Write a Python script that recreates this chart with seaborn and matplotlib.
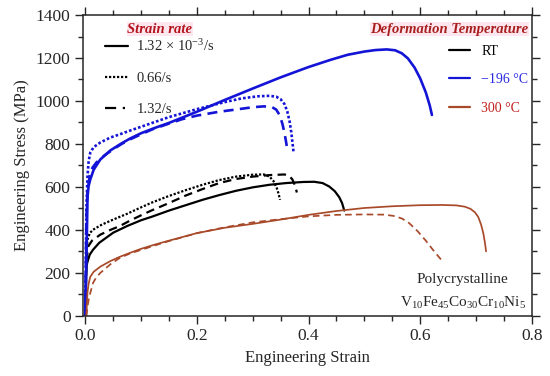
import numpy as np
import pandas as pd
import seaborn as sns
import matplotlib.pyplot as plt
from matplotlib.lines import Line2D
from matplotlib.ticker import MultipleLocator

# ---- data (strain, stress in MPa) ----
# RT
rt_slow_x = [0, 0.002, 0.004, 0.008, 0.014, 0.025, 0.05, 0.075, 0.1, 0.12, 0.15, 0.18, 0.21, 0.24, 0.27, 0.3,
             0.33, 0.36, 0.39, 0.41, 0.425, 0.437, 0.447, 0.455, 0.46, 0.464]
rt_slow_y = [0, 230, 252, 285, 308, 340, 387, 418, 445, 462, 490, 515, 540, 562, 582, 598,
             610, 618, 623, 624, 618, 602, 580, 552, 525, 490]
rt_mid_x = [0, 0.002, 0.004, 0.008, 0.014, 0.03, 0.05, 0.075, 0.1, 0.12, 0.15, 0.18, 0.21, 0.24, 0.27, 0.3,
            0.32, 0.33, 0.337, 0.343, 0.346, 0.349]
rt_mid_y = [0, 300, 355, 385, 401, 425, 448, 475, 505, 528, 558, 585, 610, 632, 648, 657,
            658, 648, 628, 595, 570, 540]
rt_fast_x = [0, 0.002, 0.005, 0.012, 0.027, 0.045, 0.062, 0.08, 0.1, 0.12, 0.15, 0.18, 0.21, 0.24, 0.27, 0.3,
             0.33, 0.357, 0.365, 0.371, 0.376, 0.379]
rt_fast_y = [0, 250, 322, 350, 378, 400, 418, 443, 468, 492, 525, 560, 590, 618, 637, 648,
             655, 658, 652, 635, 605, 574]

# -196 C
cryo_slow_x = [0, 0.003, 0.004, 0.006, 0.009, 0.015, 0.027, 0.045, 0.062, 0.08, 0.1, 0.125, 0.15, 0.2, 0.25,
               0.3, 0.35, 0.4, 0.44, 0.47, 0.5, 0.52, 0.54, 0.555, 0.567, 0.578, 0.59, 0.6, 0.61, 0.617, 0.621]
cryo_slow_y = [0, 400, 555, 605, 635, 680, 728, 770, 798, 825, 850, 875, 898, 950, 1005,
               1058, 1110, 1158, 1192, 1215, 1230, 1237, 1240, 1236, 1222, 1198, 1155, 1105, 1040, 980, 935]
cryo_mid_x = [0, 0.002, 0.004, 0.006, 0.009, 0.015, 0.027, 0.045, 0.062, 0.08, 0.1, 0.15, 0.2, 0.25, 0.28,
              0.31, 0.33, 0.342, 0.35, 0.357, 0.362, 0.366, 0.369, 0.371, 0.373]
cryo_mid_y = [0, 500, 650, 720, 760, 785, 807, 830, 845, 862, 880, 925, 962, 995, 1012,
              1022, 1024, 1020, 1008, 985, 950, 905, 855, 810, 765]
cryo_fast_x = [0, 0.002, 0.004, 0.008, 0.013, 0.02, 0.035, 0.05, 0.065, 0.08, 0.1, 0.12, 0.15, 0.173, 0.2,
               0.24, 0.275, 0.3, 0.32, 0.334, 0.342, 0.348, 0.353, 0.357, 0.36, 0.362]
cryo_fast_y = [0, 450, 580, 655, 690, 714, 748, 775, 800, 821, 845, 868, 895, 915, 932,
               950, 962, 971, 975, 972, 960, 935, 895, 850, 805, 770]

# 300 C
hot_slow_x = [0.002, 0.003, 0.004, 0.006, 0.009, 0.015, 0.027, 0.045, 0.062, 0.08, 0.1, 0.125, 0.15, 0.2, 0.25,
              0.3, 0.35, 0.4, 0.45, 0.5, 0.55, 0.6, 0.64, 0.665, 0.68, 0.69, 0.698, 0.704, 0.709, 0.713, 0.716, 0.718]
hot_slow_y = [0, 60, 110, 150, 182, 205, 229, 255, 275, 293, 312, 332, 350, 385, 410,
              428, 448, 470, 488, 502, 510, 515, 516, 514, 508, 498, 482, 460, 425, 385, 340, 300]
hot_fast_x = [0.002, 0.004, 0.006, 0.009, 0.014, 0.02, 0.027, 0.045, 0.062, 0.08, 0.1, 0.125, 0.15, 0.2, 0.25,
              0.3, 0.35, 0.4, 0.45, 0.5, 0.536, 0.555, 0.568, 0.58, 0.595, 0.61, 0.625, 0.638]
hot_fast_y = [0, 42, 75, 107, 154, 180, 200, 240, 270, 290, 307, 328, 348, 385, 412,
              435, 450, 463, 470, 472, 471, 464, 452, 432, 395, 350, 300, 260]

temps = ['RT', '\u2212196 \u00b0C', '300 \u00b0C']
rates = ['1.32e-3', '0.66', '1.32']
curves = {
    (temps[0], rates[0]): (rt_slow_x, rt_slow_y),
    (temps[0], rates[1]): (rt_mid_x, rt_mid_y),
    (temps[0], rates[2]): (rt_fast_x, rt_fast_y),
    (temps[1], rates[0]): (cryo_slow_x, cryo_slow_y),
    (temps[1], rates[1]): (cryo_mid_x, cryo_mid_y),
    (temps[1], rates[2]): (cryo_fast_x, cryo_fast_y),
    (temps[2], rates[0]): (hot_slow_x, hot_slow_y),
    (temps[2], rates[2]): (hot_fast_x, hot_fast_y),
}

rows = []
for (t, r), (xs, ys) in curves.items():
    for xv, yv in zip(xs, ys):
        rows.append({'temp': t, 'rate': r, 'strain': xv, 'stress': yv})
df = pd.DataFrame(rows)

palette = {temps[0]: '#000000', temps[1]: '#1414d6', temps[2]: '#a84a2a'}
widths = {temps[0]: 1.6, temps[1]: 1.9, temps[2]: 1.25}
dashes = {rates[0]: '', rates[1]: (1, 0.8), rates[2]: (3.8, 2.4)}

sns.set_style('ticks')
plt.rcParams['font.family'] = ['Liberation Serif', 'DejaVu Serif']
plt.rcParams['mathtext.fontset'] = 'custom'
plt.rcParams['mathtext.rm'] = 'Liberation Serif'
plt.rcParams['mathtext.it'] = 'Liberation Serif:italic'

fig = plt.figure(figsize=(5.5, 3.76), dpi=100)
ax = fig.add_axes([0.151, 0.16, 0.816, 0.80])

sns.lineplot(data=df, x='strain', y='stress', hue='temp', style='rate', size='temp',
             palette=palette, sizes=widths, dashes=dashes, estimator=None,
             sort=False, legend=False, ax=ax)

ax.set_xlim(-0.004, 0.8)
ax.set_ylim(0, 1400)
ax.xaxis.set_major_locator(MultipleLocator(0.2))
ax.xaxis.set_minor_locator(MultipleLocator(0.05))
ax.yaxis.set_major_locator(MultipleLocator(200))
ax.yaxis.set_minor_locator(MultipleLocator(100))
ax.tick_params(which='both', direction='out', top=True, right=True, width=1, labelsize=12.5, pad=3)
ax.tick_params(which='major', length=6)
ax.tick_params(which='minor', length=3.5)
for s in ax.spines.values():
    s.set_visible(True)
    s.set_linewidth(1.1)
ax.xaxis.set_major_formatter(plt.FuncFormatter(lambda v, p: f'{v:.1f}'))
ax.set_xlabel('Engineering Strain', fontsize=12)
ax.set_ylabel('Engineering Stress (MPa)', fontsize=12)

title_kw = dict(transform=ax.transAxes, fontsize=10.5, fontweight='bold', fontstyle='italic',
                va='center', bbox=dict(facecolor='#fde6ee', edgecolor='none', pad=0.5))

# strain-rate legend
rate_handles = [Line2D([], [], color='k', lw=1.6),
                Line2D([], [], color='k', lw=1.6, ls=(0, (1, 0.8))),
                Line2D([], [], color='k', lw=1.6, ls=(0, (5, 3, 1, 6)))]
rate_labels = [r'1.32 $\times$ 10$^{-3}$/s', '0.66/s', '1.32/s']
leg1 = ax.legend(rate_handles, rate_labels, loc='upper left',
                 bbox_to_anchor=(0.049, 0.922), frameon=False, fontsize=10.5,
                 handlelength=1.55, handletextpad=0.6, labelspacing=1.2,
                 borderpad=0, borderaxespad=0)
ax.add_artist(leg1)
ax.text(0.171, 0.953, 'Strain rate', ha='center', color='#b3141e', **title_kw)

# temperature legend
temp_handles = [Line2D([], [], color=palette[t], lw=1.6) for t in temps]
leg2 = ax.legend(temp_handles, temps, loc='upper left',
                 bbox_to_anchor=(0.815, 0.902), frameon=False, fontsize=10,
                 handlelength=1.55, handletextpad=0.8, labelspacing=1.12,
                 borderpad=0, borderaxespad=0)
for txt, c in zip(leg2.get_texts(), ['#000000', '#2a2ae0', '#c0201e']):
    txt.set_color(c)
ax.text(0.993, 0.953, 'Deformation Temperature', ha='right', color='#a8201e', **title_kw)

ax.text(0.846, 0.10, 'Polycrystalline', transform=ax.transAxes, ha='center', va='bottom', fontsize=11)
ax.text(0.846, 0.015, r'V$_{10}$Fe$_{45}$Co$_{30}$Cr$_{10}$Ni$_{5}$', transform=ax.transAxes,
        ha='center', va='bottom', fontsize=11)

fig.savefig('out.png', dpi=100)
